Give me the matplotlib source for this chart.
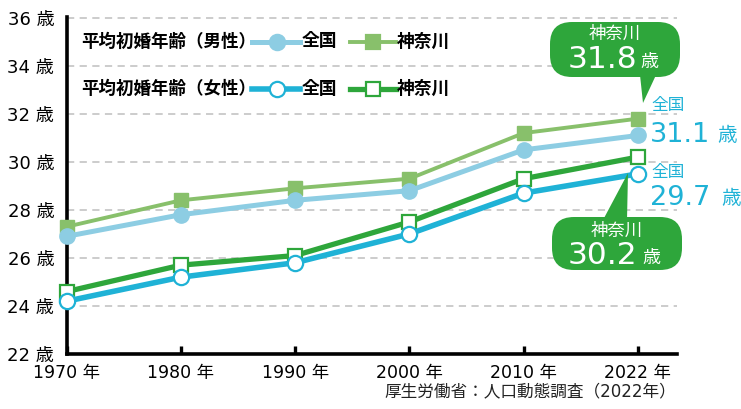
import matplotlib
matplotlib.use("Agg")
import matplotlib.pyplot as plt
from matplotlib.patches import FancyBboxPatch, Polygon
from matplotlib.lines import Line2D
from matplotlib.transforms import Affine2D

# data
years = ["1970", "1980", "1990", "2000", "2010", "2022"]
male_national = [26.9, 27.8, 28.4, 28.8, 30.5, 31.1]
male_kanagawa = [27.3, 28.4, 28.9, 29.3, 31.2, 31.8]
female_national = [24.2, 25.2, 25.8, 27.0, 28.7, 29.5]
female_kanagawa = [24.6, 25.7, 26.1, 27.5, 29.3, 30.2]
y_ticks = [22, 24, 26, 28, 30, 32, 34, 36]

C_MN = "#8dcde3"
C_MK = "#88c06b"
C_FN = "#1fb2d6"
C_FK = "#2ea63b"
JP = ["Noto Sans CJK JP"]
NUM = ["DejaVu Sans", "Noto Sans CJK JP"]

W, H = 741, 409
fig = plt.figure(figsize=(W / 100, H / 100), dpi=100)
ax = fig.add_axes([66.7 / W, 1 - 354 / H, 610 / W, (354 - 16.6) / H])
# pixel coordinates measured from the top-left corner of the image
px = Affine2D().scale(1, -1).translate(0, H)

x = list(range(len(years)))
ax.plot(x, male_kanagawa, color=C_MK, lw=2.8, marker="s", ms=10,
        mfc=C_MK, mec=C_MK, zorder=3, clip_on=False)
ax.plot(x, male_national, color=C_MN, lw=3.6, marker="o", ms=11,
        mfc=C_MN, mec=C_MN, zorder=4, clip_on=False)
ax.plot(x, female_kanagawa, color=C_FK, lw=3.8, marker="s", ms=10,
        mfc="white", mec=C_FK, mew=1.6, zorder=3, clip_on=False)
ax.plot(x, female_national, color=C_FN, lw=4, marker="o", ms=11,
        mfc="white", mec=C_FN, mew=1.6, zorder=4, clip_on=False)

ax.set_xlim(0, 5.34)
ax.set_ylim(22, 36.05)
ax.set_xticks(x)
ax.set_xticklabels([f"{y} 年" for y in years], family=NUM, fontsize=12.5)
ax.set_yticks(y_ticks)
ax.set_yticklabels([f"{v} 歳" for v in y_ticks], family=NUM, fontsize=13)
ax.tick_params(axis="x", direction="in", length=6, width=2.4, pad=7)
ax.tick_params(axis="y", length=0, pad=9)
ax.yaxis.grid(True, color="#c8c8c8", ls=(0, (4, 3)), lw=1.3)
ax.set_axisbelow(True)
for s in ["top", "right"]:
    ax.spines[s].set_visible(False)
for s in ["left", "bottom"]:
    ax.spines[s].set_linewidth(2.6)
    ax.spines[s].set_color("black")

# legend, drawn by hand
def legend_row(yp, title, national_fill, kana_fill, nat_color, kana_color, lw_n, lw_k):
    fig.text(81, yp, title, transform=px, family=JP, fontsize=12.6,
             fontweight="bold", va="center", ha="left")
    fig.add_artist(Line2D([252, 300], [yp, yp], transform=px, color=nat_color, lw=lw_n))
    fig.add_artist(Line2D([276.5], [yp], transform=px, marker="o", ms=11,
                          mfc=national_fill, mec=nat_color, mew=1.6, ls="none"))
    fig.text(302, yp, "全国", transform=px, family=JP, fontsize=12.8,
             fontweight="bold", va="center", ha="left")
    fig.add_artist(Line2D([350, 396], [yp, yp], transform=px, color=kana_color, lw=lw_k))
    fig.add_artist(Line2D([373], [yp], transform=px, marker="s", ms=10,
                          mfc=kana_fill, mec=kana_color, mew=1.6, ls="none"))
    fig.text(397, yp, "神奈川", transform=px, family=JP, fontsize=12.8,
             fontweight="bold", va="center", ha="left")

legend_row(41.5, "平均初婚年齢（男性）", C_MN, C_MK, C_MN, C_MK, 3.6, 2.8)
legend_row(88.5, "平均初婚年齢（女性）", "white", "white", C_FN, C_FK, 4, 3.8)

# callouts for Kanagawa
def callout(box, tri, label, num, yl, base, xn, xk):
    bx, by, bw, bh = box
    fig.add_artist(FancyBboxPatch((bx, by), bw, bh, boxstyle="round,pad=0,rounding_size=22",
                                  transform=px, fc=C_FK, ec="none"))
    fig.add_artist(Polygon(tri, closed=True, transform=px, fc=C_FK, ec="none"))
    fig.text(bx + bw / 2, yl, label, transform=px, family=JP, fontsize=12.5,
             color="white", ha="center", va="center")
    fig.text(xn, base, num, transform=px, family=NUM, fontsize=22.5,
             color="white", ha="left", va="baseline")
    fig.text(xk, base - 1, "歳", transform=px, family=JP, fontsize=13,
             color="white", ha="left", va="baseline")

callout((550, 22, 130, 55), [(640, 75), (656, 75), (643, 103)],
        "神奈川", "31.8", 33.5, 68, 568, 640)
callout((552, 217, 130, 53), [(603, 220), (627, 220), (628, 173)],
        "神奈川", "30.2", 230.5, 264, 568, 642)

# national labels
def national(yl, base, num, xk):
    fig.text(651, yl, "全国", transform=px, family=JP, fontsize=12,
             color=C_FN, ha="left", va="center")
    fig.text(650, base, num, transform=px, family=NUM, fontsize=19.5,
             color=C_FN, ha="left", va="baseline")
    fig.text(xk, base - 1, "歳", transform=px, family=JP, fontsize=14,
             color=C_FN, ha="left", va="baseline")

national(105.5, 142, "31.1", 717)
national(172, 205, "29.7", 721)

fig.text(676, 391, "厚生労働省：人口動態調査（2022年）", transform=px, family=NUM,
         fontsize=12, color="#222222", ha="right", va="center")

fig.savefig("out.png", dpi=100)
